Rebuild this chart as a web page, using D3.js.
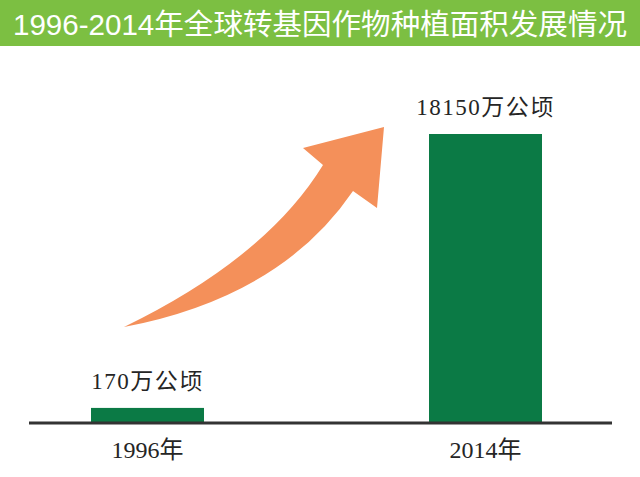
<!DOCTYPE html>
<html>
<head>
<meta charset="utf-8">
<script src="https://cdn.jsdelivr.net/npm/d3@7"></script>
<style>
  html, body { margin: 0; padding: 0; background: #fff; }
  svg { display: block; }
</style>
</head>
<body>
<main></main>
<script>
// chart data
var titleText = "1996-2014年全球转基因作物种植面积发展情况";
var years = ["1996年", "2014年"];
var areas = [170, 18150];
var valueLabels = ["170万公顷", "18150万公顷"];

var width = 640, height = 477;

var svg = d3.select("main")
    .append("svg")
    .attr("width", width)
    .attr("height", height);

// title bar
svg.append("rect")
    .attr("x", 0).attr("y", 0)
    .attr("width", width).attr("height", 46)
    .attr("fill", "#7cbf42");

svg.append("text")
    .attr("x", 13)
    .attr("y", 35)
    .attr("fill", "#fff")
    .attr("font-family", "'Liberation Sans', 'Noto Sans CJK SC', sans-serif")
    .attr("font-size", 29)
    .attr("textLength", 614)
    .attr("lengthAdjust", "spacingAndGlyphs")
    .text(titleText);

var axisY = 423;

var x = d3.scalePoint()
    .domain(years)
    .range([147.5, 485.5]);

// the picture keeps the small bar visible, so the value axis does not start at 0
var y = d3.scaleLinear()
    .domain([-820, 18150])
    .range([axisY, 134]);

var barW = 113;

var plot = svg.append("g").attr("id", "plot-area");

plot.selectAll("rect.bar")
    .data(areas)
    .enter()
    .append("rect")
    .attr("class", "bar")
    .attr("x", function (d, i) { return x(years[i]) - barW / 2; })
    .attr("y", function (d) { return y(d); })
    .attr("width", barW)
    .attr("height", function (d) { return axisY - y(d); })
    .attr("fill", "#0b7a45");

plot.selectAll("text.val")
    .data(areas)
    .enter()
    .append("text")
    .attr("class", "val")
    .attr("x", function (d, i) { return x(years[i]); })
    .attr("y", function (d) { return y(d) - 19; })
    .attr("text-anchor", "middle")
    .attr("fill", "#252525")
    .attr("font-family", "'Liberation Serif', 'Noto Sans CJK SC', serif")
    .attr("font-size", 23)
    .attr("letter-spacing", 1.5)
    .text(function (d, i) { return valueLabels[i]; });

// baseline
plot.append("line")
    .attr("x1", 29).attr("x2", 612)
    .attr("y1", axisY).attr("y2", axisY)
    .attr("stroke", "#333")
    .attr("stroke-width", 3);

plot.selectAll("text.cat")
    .data(years)
    .enter()
    .append("text")
    .attr("class", "cat")
    .attr("x", function (d) { return x(d); })
    .attr("y", 458)
    .attr("text-anchor", "middle")
    .attr("fill", "#252525")
    .attr("font-family", "'Liberation Serif', 'Noto Sans CJK SC', serif")
    .attr("font-size", 24)
    .text(function (d) { return d; });

// decorative growth arrow
var arrow = d3.path();
arrow.moveTo(124, 327);
arrow.quadraticCurveTo(266, 258, 323, 165);
arrow.lineTo(303, 148);
arrow.lineTo(384, 127);
arrow.lineTo(377, 208);
arrow.lineTo(353, 191);
arrow.quadraticCurveTo(281, 297, 124, 327);
arrow.closePath();

svg.append("path")
    .attr("d", arrow.toString())
    .attr("fill", "#f4905a");
</script>
</body>
</html>
